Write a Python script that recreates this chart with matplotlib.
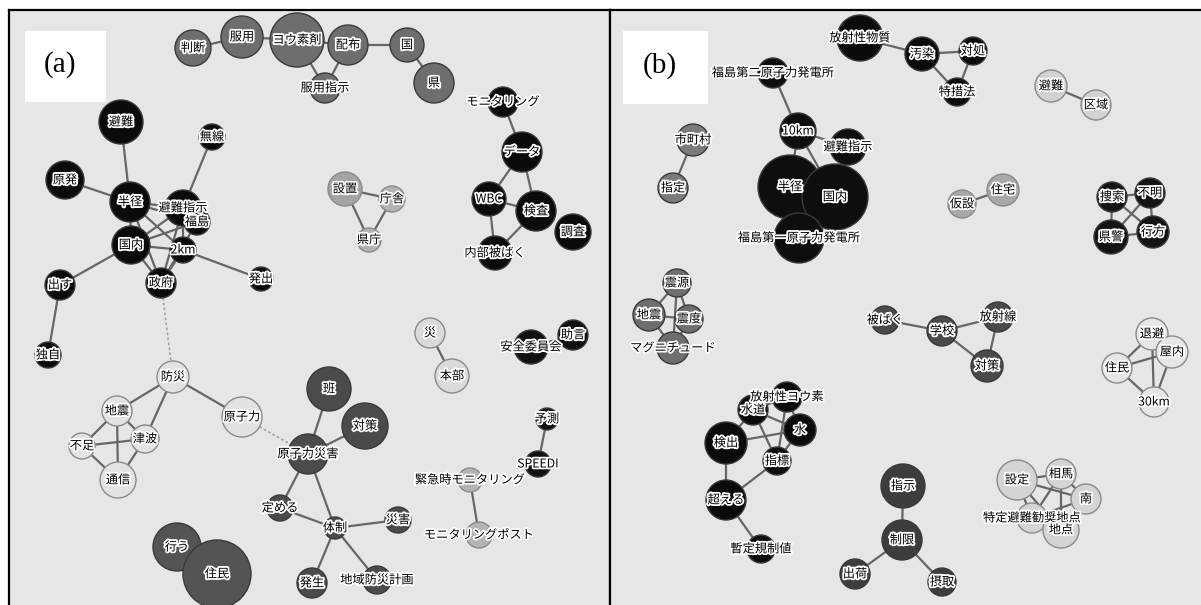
import matplotlib
matplotlib.use("Agg")
import matplotlib.pyplot as plt
from matplotlib.patches import Circle, Rectangle
import matplotlib.patheffects as pe

plt.rcParams['font.family'] = ['Noto Sans CJK JP', 'DejaVu Sans']

# ---------------- Panel (a) data ----------------
a_nodes = ["判断", "服用", "ヨウ素剤", "配布", "国", "県", "服用指示",
           "避難", "無線", "原発", "半径", "避難指示", "福島", "国内", "2km", "政府", "出す", "発出", "独自",
           "防災", "地震", "原子力", "不足", "津波", "通信",
           "班", "対策", "原子力災害", "定める", "体制", "災害", "発生", "地域防災計画",
           "行う", "住民",
           "設置", "庁舎", "県庁",
           "モニタリング", "データ", "WBC", "検査", "調査", "内部被ばく",
           "災", "本部", "安全委員会", "助言", "予測", "SPEEDI",
           "緊急時モニタリング", "モニタリングポスト"]
a_x = [193, 242, 297, 348, 407, 434, 325,
       121, 212, 65, 130, 183, 197, 131, 183, 161, 60, 261, 48,
       173, 117, 242, 82, 145, 118,
       329, 365, 308, 280, 335, 398, 312, 377,
       177, 217,
       345, 392, 369,
       503, 522, 489, 536, 573, 495,
       430, 452, 531, 573, 547, 538,
       470, 479]
a_y = [48, 37, 40, 45, 45, 83, 88,
       122, 137, 180, 202, 208, 222, 245, 250, 283, 285, 279, 355,
       377, 411, 417, 446, 439, 480,
       389, 426, 454, 508, 528, 520, 583, 580,
       547, 574,
       189, 199, 240,
       102, 152, 199, 211, 232, 253,
       333, 376, 347, 335, 419, 464,
       480, 535]
a_r = [18, 21, 27, 20, 17, 20, 15,
       22, 13, 19, 20, 18, 13, 19, 13, 15, 15, 12, 13,
       16, 15, 20, 13, 14, 18,
       22, 23, 20, 13, 11, 13, 15, 14,
       24, 34,
       17, 13, 12,
       15, 20, 17, 20, 18, 17,
       15, 17, 17, 15, 11, 13,
       12, 13]
a_fill = (["#6e6e6e"] * 7 + ["#0b0b0b"] * 12 + ["#e2e2e2"] * 6 + ["#4b4b4b"] * 8
          + ["#545454"] * 2 + ["#a4a4a4", "#b2b2b2", "#b2b2b2"] + ["#0b0b0b"] * 6
          + ["#dadada"] * 2 + ["#111111"] * 4 + ["#b4b4b4"] * 2)
a_edges = [("判断", "服用"), ("服用", "ヨウ素剤"), ("ヨウ素剤", "配布"), ("配布", "国"), ("国", "県"),
           ("ヨウ素剤", "服用指示"), ("配布", "服用指示"),
           ("避難", "半径"), ("原発", "半径"), ("無線", "避難指示"), ("半径", "避難指示"), ("半径", "福島"),
           ("半径", "国内"), ("半径", "2km"), ("半径", "政府"), ("国内", "避難指示"), ("国内", "福島"),
           ("国内", "2km"), ("国内", "政府"), ("国内", "出す"), ("2km", "避難指示"), ("2km", "政府"),
           ("2km", "発出"), ("政府", "避難指示"), ("政府", "福島"), ("出す", "独自"),
           ("防災", "地震"), ("防災", "津波"), ("防災", "原子力"), ("地震", "不足"), ("地震", "津波"),
           ("地震", "通信"), ("不足", "津波"), ("不足", "通信"), ("津波", "通信"),
           ("班", "原子力災害"), ("対策", "原子力災害"), ("原子力災害", "定める"), ("原子力災害", "体制"),
           ("定める", "体制"), ("体制", "災害"), ("体制", "発生"), ("体制", "地域防災計画"),
           ("設置", "庁舎"), ("設置", "県庁"), ("庁舎", "県庁"),
           ("モニタリング", "データ"), ("データ", "WBC"), ("データ", "検査"), ("WBC", "検査"),
           ("WBC", "内部被ばく"), ("検査", "内部被ばく"),
           ("災", "本部"), ("安全委員会", "助言"), ("予測", "SPEEDI"),
           ("緊急時モニタリング", "モニタリングポスト")]
a_dotted = [("政府", "防災"), ("原子力", "原子力災害")]

# ---------------- Panel (b) data ----------------
b_nodes = ["放射性物質", "汚染", "対処", "特措法",
           "福島第二原子力発電所", "10km", "避難指示", "半径", "国内", "福島第一原子力発電所",
           "市町村", "指定", "避難", "区域", "仮設", "住宅",
           "捜索", "不明", "県警", "行方",
           "震源", "地震", "震度", "マグニチュード",
           "被ばく", "学校", "放射線", "対策",
           "退避", "屋内", "住民", "30km",
           "放射性ヨウ素", "水道", "水", "検出", "指標", "超える", "暫定規制値",
           "指示", "制限", "出荷", "摂取",
           "設定", "相馬", "南", "特定避難勧奨地点", "地点"]
b_x = [860, 922, 973, 957,
       773, 798, 848, 790, 835, 799,
       693, 673, 1051, 1096, 962, 1003,
       1112, 1150, 1111, 1153,
       677, 649, 689, 673,
       885, 942, 998, 987,
       1152, 1172, 1117, 1154,
       787, 753, 800, 726, 777, 726, 761,
       903, 902, 855, 942,
       1017, 1061, 1086, 1032, 1061]
b_y = [38, 54, 51, 92,
       73, 131, 147, 187, 197, 238,
       140, 188, 86, 105, 204, 190,
       197, 193, 237, 232,
       283, 315, 319, 348,
       320, 331, 317, 366,
       334, 352, 368, 402,
       397, 410, 430, 443, 461, 500, 549,
       486, 540, 574, 582,
       480, 474, 499, 518, 530]
b_r = [23, 17, 14, 14,
       15, 18, 18, 32, 33, 25,
       16, 15, 16, 15, 14, 16,
       15, 15, 17, 16,
       14, 16, 14, 16,
       14, 15, 15, 16,
       16, 16, 15, 15,
       15, 15, 16, 21, 14, 20, 14,
       22, 20, 15, 14,
       20, 15, 15, 15, 18]
b_fill = (["#0b0b0b"] * 4 + ["#0e0e0e"] * 6 + ["#7a7a7a"] * 2 + ["#d2d2d2"] * 2
          + ["#a8a8a8"] * 2 + ["#141414"] * 4 + ["#6e6e6e"] * 4 + ["#4a4a4a"] * 4
          + ["#e6e6e6"] * 4 + ["#0b0b0b"] * 7 + ["#3d3d3d"] * 4 + ["#d4d4d4"] * 5)
b_edges = [("放射性物質", "汚染"), ("汚染", "対処"), ("汚染", "特措法"), ("対処", "特措法"),
           ("福島第二原子力発電所", "10km"), ("10km", "避難指示"), ("10km", "半径"), ("10km", "国内"),
           ("避難指示", "国内"), ("半径", "国内"), ("半径", "福島第一原子力発電所"),
           ("国内", "福島第一原子力発電所"),
           ("市町村", "指定"), ("避難", "区域"), ("仮設", "住宅"),
           ("捜索", "不明"), ("捜索", "県警"), ("捜索", "行方"), ("不明", "県警"), ("不明", "行方"),
           ("県警", "行方"),
           ("震源", "地震"), ("震源", "震度"), ("震源", "マグニチュード"), ("地震", "震度"),
           ("地震", "マグニチュード"), ("震度", "マグニチュード"),
           ("被ばく", "学校"), ("学校", "放射線"), ("学校", "対策"), ("放射線", "対策"),
           ("退避", "屋内"), ("退避", "住民"), ("退避", "30km"), ("屋内", "住民"), ("屋内", "30km"),
           ("住民", "30km"),
           ("放射性ヨウ素", "水道"), ("放射性ヨウ素", "水"), ("放射性ヨウ素", "指標"), ("水道", "水"),
           ("水道", "検出"), ("水道", "指標"), ("水", "検出"), ("水", "指標"), ("検出", "超える"),
           ("指標", "超える"), ("超える", "暫定規制値"),
           ("指示", "制限"), ("制限", "出荷"), ("制限", "摂取"),
           ("設定", "相馬"), ("設定", "南"), ("設定", "特定避難勧奨地点"), ("設定", "地点"),
           ("相馬", "南"), ("相馬", "地点"), ("相馬", "特定避難勧奨地点"), ("南", "地点"),
           ("南", "特定避難勧奨地点"), ("特定避難勧奨地点", "地点")]
b_dotted = []

panel_tags = ["(a)", "(b)"]

W, H = 1201, 605
fig = plt.figure(figsize=(W / 100, H / 100), dpi=100)
fig.patch.set_facecolor("white")

ax_a = fig.add_axes([9 / W, 0, (610 - 9) / W, (H - 10) / H])
ax_b = fig.add_axes([610 / W, 0, (W - 610) / W, (H - 10) / H])
ax_a.set_xlim(9, 610)
ax_b.set_xlim(610, W)
for ax in (ax_a, ax_b):
    ax.set_ylim(H, 10)
    ax.set_facecolor("#e6e6e6")
    ax.set_xticks([])
    ax.set_yticks([])
    for s in ax.spines.values():
        s.set_linewidth(1.6)
        s.set_color("black")
    ax.spines["bottom"].set_visible(False)
ax_b.spines["right"].set_visible(False)


def lum(c):
    c = c.lstrip("#")
    return int(c[0:2], 16)


def draw(ax, nodes, xs, ys, rs, fills, edges, dotted, tag, tag_box):
    pos = {n: (x, y) for n, x, y in zip(nodes, xs, ys)}
    for u, v in edges:
        ax.plot([pos[u][0], pos[v][0]], [pos[u][1], pos[v][1]],
                color="#666666", lw=1.6, zorder=1, solid_capstyle="round")
    for u, v in dotted:
        ax.plot([pos[u][0], pos[v][0]], [pos[u][1], pos[v][1]],
                color="#a0a0a0", lw=1.2, ls=(0, (1.5, 1.5)), zorder=1)
    for n, x, y, r, f in zip(nodes, xs, ys, rs, fills):
        ec = "#8a8a8a" if lum(f) > 150 else "#3a3a3a"
        ax.add_patch(Circle((x, y), r, facecolor=f, edgecolor=ec, lw=1.0, zorder=2))
    for n, x, y, r, f in zip(nodes, xs, ys, rs, fills):
        ax.text(x, y, n, ha="center", va="center", fontsize=8.8, color="black", zorder=4,
                path_effects=[pe.withStroke(linewidth=2.6, foreground="white")])
    x0, y0, w, h = tag_box
    ax.add_patch(Rectangle((x0, y0), w, h, facecolor="white", edgecolor="none", zorder=5))
    ax.text(x0 + w * 0.43, y0 + h * 0.47, tag, ha="center", va="center",
            fontsize=21, family="Liberation Serif", zorder=6)


draw(ax_a, a_nodes, a_x, a_y, a_r, a_fill, a_edges, a_dotted, panel_tags[0], (25, 31, 81, 71))
draw(ax_b, b_nodes, b_x, b_y, b_r, b_fill, b_edges, b_dotted, panel_tags[1], (623, 31, 85, 73))

fig.savefig("out.png", dpi=100)
